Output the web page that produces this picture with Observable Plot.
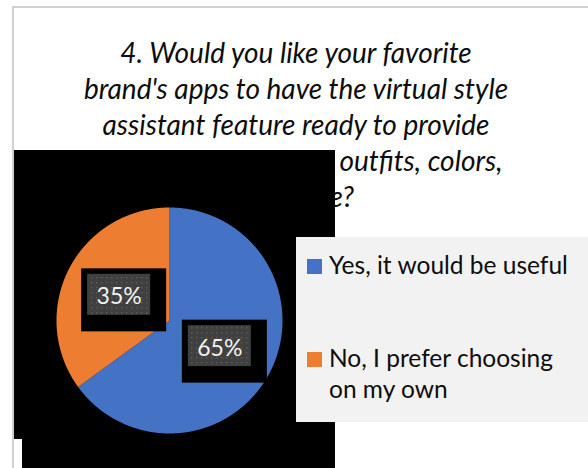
<!DOCTYPE html>
<html>
<head>
<meta charset="utf-8">
<script src="https://cdn.jsdelivr.net/npm/d3@7"></script>
<script src="https://cdn.jsdelivr.net/npm/@observablehq/plot@0.6"></script>
<style>
  body { margin: 0; background: #fff; }
  #wrap { position: relative; width: 588px; height: 468px; overflow: hidden; font-family: Lato, "Open Sans", sans-serif; }
  .frame { position: absolute; left: 12px; top: 6px; width: 600px; height: 500px; border-left: 2px solid #d0d0d0; border-top: 2px solid #d0d0d0; }
  .blk { position: absolute; background: #000; }
  #title { position: absolute; left: 0; top: 0; }
  #chart { position: absolute; left: 49px; top: 200px; }
  #legend { position: absolute; left: 296px; top: 237px; }
</style>
</head>
<body>
<div id="wrap">
  <div class="frame"></div>
  <svg id="title" width="588" height="240"></svg>
  <div class="blk" style="left:14px;top:150px;width:321px;height:289px"></div>
  <div class="blk" style="left:22px;top:439px;width:313px;height:29px"></div>
  <div id="chart"></div>
  <svg id="legend" width="292" height="185"></svg>
</div>
<script>
// ---- data ----
const categories = ["Yes, it would be useful", "No, I prefer choosing on my own"];
const shares = [65, 35];
const sliceLabels = ["65%", "35%"];
const colors = ["#4472C4", "#ED7D31"];
const titleLines = [
  "4. Would you like your favorite",
  "brand's apps to have the virtual style",
  "assistant feature ready to provide",
  "recommendations on outfits, colors,",
  "and style?"
];
const legendLines = [["Yes, it would be useful"], ["No, I prefer choosing", "on my own"]];

// ---- title ----
const tsvg = d3.select("#title");
titleLines.forEach((t, i) => {
  tsvg.append("text")
    .attr("x", 296).attr("y", 63 + i * 36)
    .attr("text-anchor", "middle")
    .attr("font-family", "Lato, sans-serif")
    .attr("font-style", "italic")
    .attr("font-size", 28)
    .attr("fill", "#0d0d0d")
    .text(t);
});

// ---- pie ----
const R = 113;
const data = categories.map((c, i) => ({ category: c, value: shares[i], label: sliceLabels[i], color: colors[i] }));
const arcs = d3.pie().sort(null).value(d => d.value)(data);
const slicePts = arcs.map((a, i) => {
  const pts = [{ x: 0, y: 0 }];
  const n = Math.ceil((a.endAngle - a.startAngle) / 0.005);
  for (let j = 0; j <= n; j++) {
    const t = a.startAngle + (a.endAngle - a.startAngle) * j / n;
    pts.push({ x: R * Math.sin(t), y: -R * Math.cos(t) });
  }
  pts.push({ x: 0, y: 0 });
  return pts;
});
const labels = arcs.map(a => {
  const m = (a.startAngle + a.endAngle) / 2;
  return { x: 0.5 * R * Math.sin(m), y: -0.5 * R * Math.cos(m), label: a.data.label };
});

const plot = Plot.plot({
  width: 240, height: 240,
  margin: 0,
  x: { domain: [-120, 120], range: [0, 240], axis: null },
  y: { domain: [-120, 120], range: [0, 240], axis: null },
  style: { background: "transparent", overflow: "visible" },
  marks: [
    ...slicePts.map((pts, i) => Plot.line(pts, { x: "x", y: "y", fill: colors[i], stroke: "none", curve: "linear" })),
    Plot.rect(labels, { x1: d => d.x - 37.5, x2: d => d.x + 47.5, y1: d => d.y - 26, y2: d => d.y + 37, fill: "#000" }),
    Plot.rect(labels, { x1: d => d.x - 31.5, x2: d => d.x + 31.5, y1: d => d.y - 20.5, y2: d => d.y + 20.5, fill: "url(#dots)" }),
    Plot.text(labels, { x: "x", y: "y", text: "label", fill: "#f2f2f2", fontSize: 23, fontFamily: "Lato, sans-serif", dy: 2 })
  ]
});
const defs = d3.select(plot).insert("defs", ":first-child");
const pat = defs.append("pattern").attr("id", "dots").attr("width", 5).attr("height", 5).attr("patternUnits", "userSpaceOnUse");
pat.append("rect").attr("width", 5).attr("height", 5).attr("fill", "#404040");
pat.append("rect").attr("x", 2).attr("y", 2).attr("width", 1.4).attr("height", 1.4).attr("fill", "#5c5c5c");
document.getElementById("chart").appendChild(plot);

// ---- legend ----
const lsvg = d3.select("#legend");
lsvg.append("rect").attr("width", 292).attr("height", 185).attr("fill", "#f2f2f2");
const rowTops = [22, 115];
legendLines.forEach((lines, i) => {
  lsvg.append("rect").attr("x", 11).attr("y", rowTops[i]).attr("width", 15).attr("height", 15).attr("fill", colors[i]);
  lines.forEach((t, j) => {
    lsvg.append("text")
      .attr("x", 33).attr("y", rowTops[i] + 15 + j * 31)
      .attr("font-family", "Lato, sans-serif")
      .attr("font-size", 24.5)
      .attr("fill", "#0d0d0d")
      .text(t);
  });
});
</script>
</body>
</html>
